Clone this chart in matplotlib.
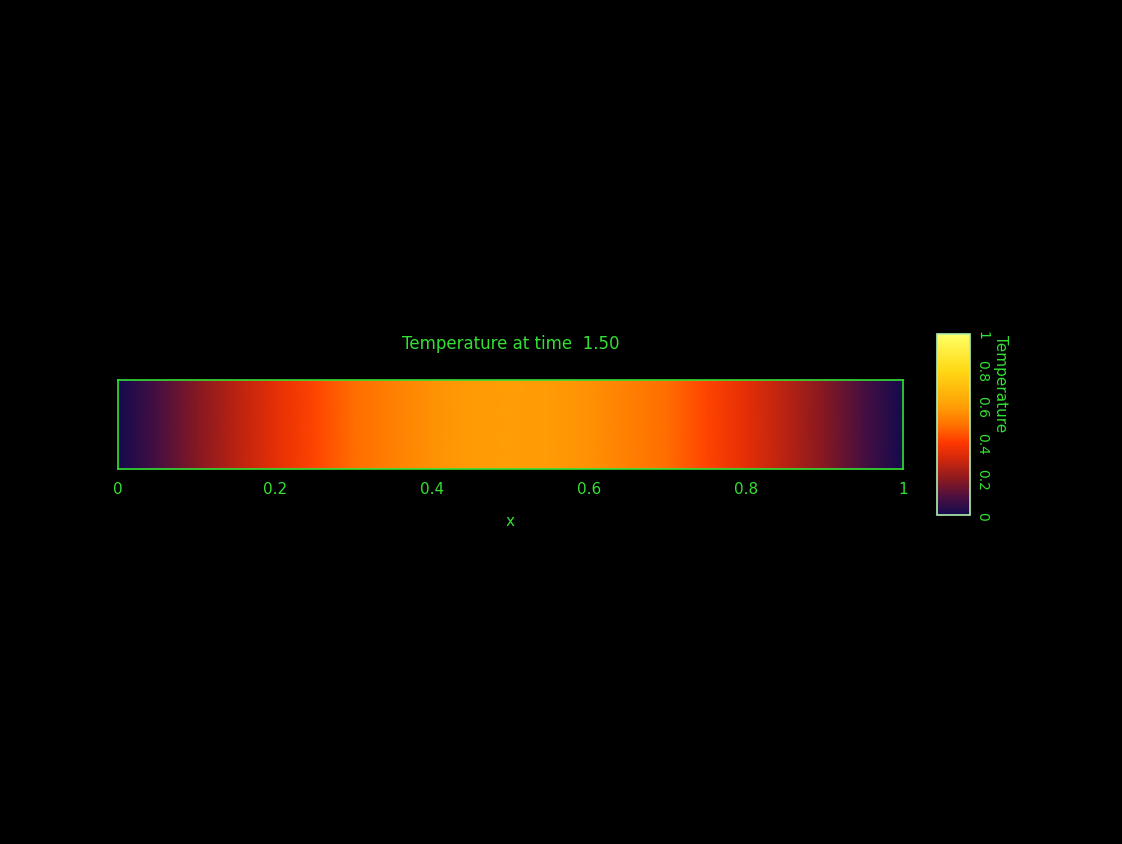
import numpy as np
import matplotlib
matplotlib.use("Agg")
import matplotlib.pyplot as plt
from matplotlib.colors import LinearSegmentedColormap

# temperature profile
x_pos = [0.0, 0.05, 0.1, 0.15, 0.2, 0.25, 0.3, 0.35, 0.4, 0.45, 0.5,
         0.55, 0.6, 0.65, 0.7, 0.75, 0.8, 0.85, 0.9, 0.95, 1.0]
temperature = [0.0, 0.09, 0.19, 0.27, 0.35, 0.42, 0.49, 0.53, 0.57, 0.59, 0.60,
               0.59, 0.57, 0.53, 0.49, 0.42, 0.35, 0.27, 0.19, 0.09, 0.0]
x_ticks = [0, 0.2, 0.4, 0.6, 0.8, 1]
x_ticklabels = ["0", "0.2", "0.4", "0.6", "0.8", "1"]
cb_ticks = [0, 0.2, 0.4, 0.6, 0.8, 1]
cb_ticklabels = ["0", "0.2", "0.4", "0.6", "0.8", "1"]
time_value = 1.50

green = "#33e033"

cmap = LinearSegmentedColormap.from_list("heat", [
    (0.0, (0.08, 0.04, 0.30)),
    (0.1, (0.30, 0.06, 0.25)),
    (0.2, (0.55, 0.10, 0.12)),
    (0.3, (0.80, 0.15, 0.05)),
    (0.4, (1.0, 0.22, 0.0)),
    (0.5, (1.0, 0.45, 0.0)),
    (0.6, (1.0, 0.62, 0.02)),
    (0.8, (1.0, 0.85, 0.08)),
    (1.0, (1.0, 1.0, 0.40)),
])

fig = plt.figure(figsize=(11.22, 8.45), dpi=100, facecolor="black")

ax = fig.add_axes([0.1052, 0.4438, 0.6996, 0.1053])
ax.set_facecolor("black")
T = np.array([temperature, temperature])
Y = np.array([0, 1])
mesh = ax.pcolormesh(x_pos, Y, T, cmap=cmap, vmin=0, vmax=1, shading="gouraud")
ax.set_xlim(0, 1)
ax.set_ylim(0, 1)
ax.set_xticks(x_ticks)
ax.set_xticklabels(x_ticklabels)
ax.set_yticks([])
ax.tick_params(axis="x", length=0, pad=9, colors=green, labelsize=11)
for s in ax.spines.values():
    s.set_color(green)
    s.set_linewidth(1.2)
ax.set_xlabel("x", color=green, fontsize=11, labelpad=12)
ax.set_title(f"Temperature at time  {time_value:.2f}", color=green, fontsize=12, pad=23)

cax = fig.add_axes([0.8351, 0.3893, 0.0294, 0.2142])
cb = fig.colorbar(mesh, cax=cax)
cb.set_ticks(cb_ticks)
cb.set_ticklabels(cb_ticklabels)
cax.tick_params(length=0, pad=4, colors=green, labelsize=10)
for lab in cax.get_yticklabels():
    lab.set_rotation(270)
    lab.set_va("center")
cb.outline.set_edgecolor("#b0f0b0")
cb.outline.set_linewidth(1.2)
fig.text(0.892, 0.604, "Temperature", color=green, fontsize=11,
         rotation=270, ha="center", va="top")

fig.savefig("out.png", dpi=100, facecolor="black")
